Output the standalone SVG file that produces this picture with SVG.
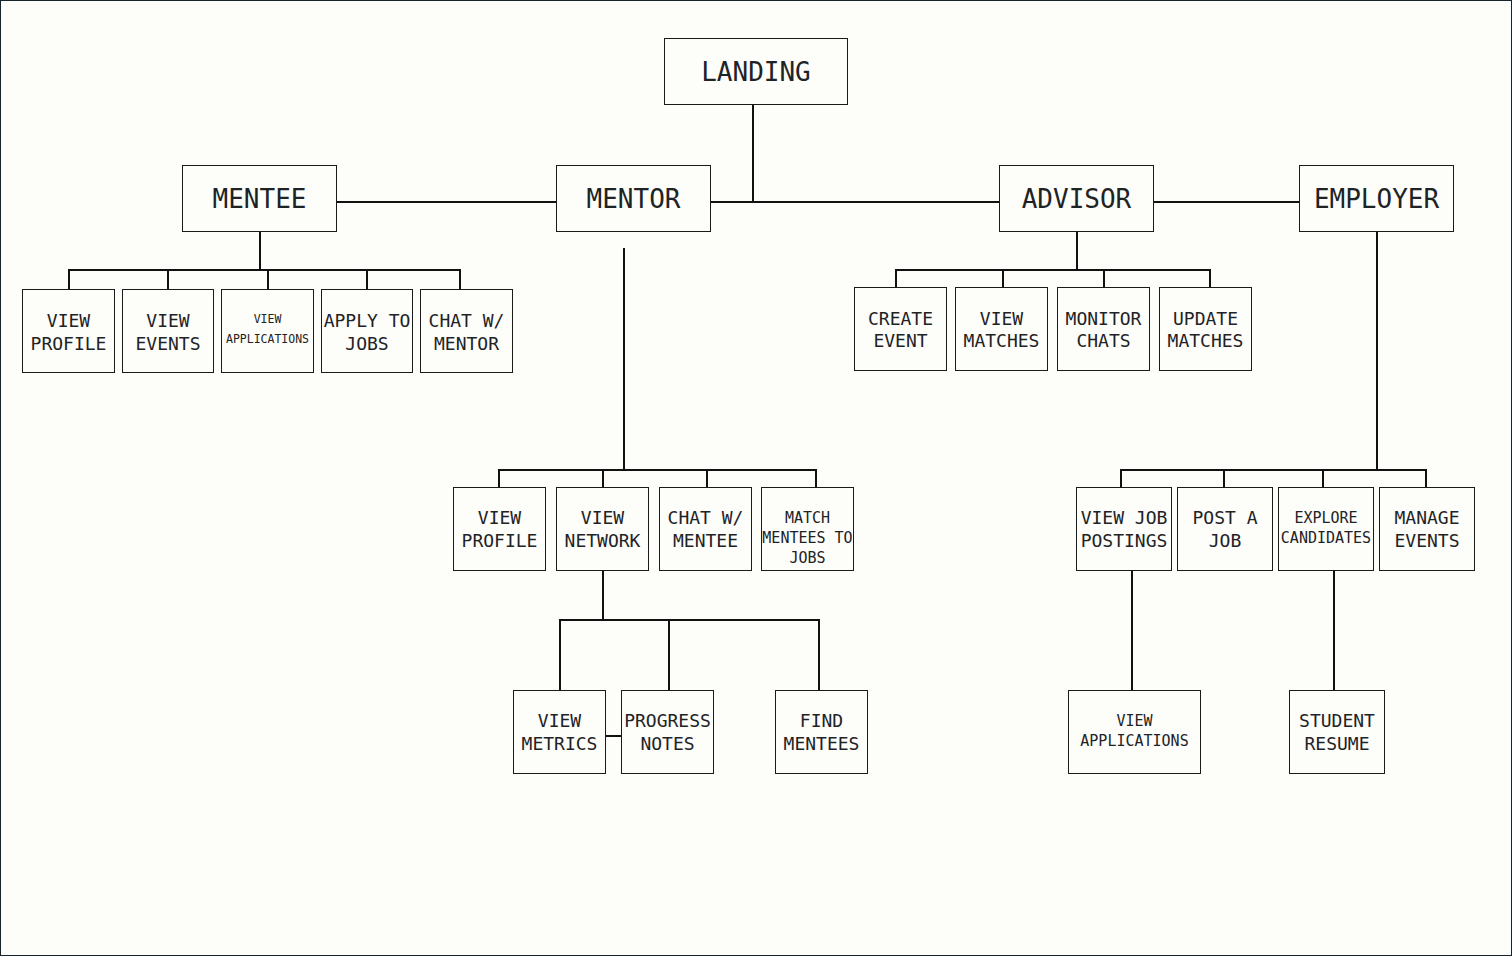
<svg xmlns="http://www.w3.org/2000/svg" width="1512" height="956" viewBox="0 0 1512 956">
<style>
.bg{fill:#fdfdf9;stroke:#17232b;stroke-width:1}
.box{fill:#fdfdf9;stroke:#1a1a1a;stroke-width:1}
.c{fill:none;stroke:#111;stroke-width:2}
text{font-family:"DejaVu Sans Mono","Liberation Mono",monospace;fill:#1e2326;text-anchor:middle}
.L{font-size:26px}
.M{font-size:18px}
.S{font-size:15px}
.T{font-size:11.5px}
</style>
<rect class="bg" x="0.5" y="0.5" width="1511" height="955"/>
<g id="connectors">
<path class="c" d="M753,104V202M336,202H556M710,202H999M1153,202H1299"/>
<path class="c" d="M260,231V270M69,289V270H460V289M168,270V289M268,270V289M367,270V289"/>
<path class="c" d="M624,248V470M499,487V470H816V487M603,470V487M707,470V487"/>
<path class="c" d="M603,570V620M560,690V620H819V690M669,620V690M605,736H621"/>
<path class="c" d="M1077,231V270M896,287V270H1210V287M1003,270V287M1104,270V287"/>
<path class="c" d="M1377,231V470M1121,487V470H1426V487M1224,470V487M1323,470V487"/>
<path class="c" d="M1132,570V690M1334,570V690"/>
</g>
<g id="landing"><rect class="box" x="664.5" y="38.5" width="183" height="66"/><text class="L" x="756" y="80.5">LANDING</text></g>
<g id="mentee"><rect class="box" x="182.5" y="165.5" width="154" height="66"/><text class="L" x="259.5" y="207.5">MENTEE</text></g>
<g id="mentor"><rect class="box" x="556.5" y="165.5" width="154" height="66"/><text class="L" x="633.5" y="207.5">MENTOR</text></g>
<g id="advisor"><rect class="box" x="999.5" y="165.5" width="154" height="66"/><text class="L" x="1076.5" y="207.5">ADVISOR</text></g>
<g id="employer"><rect class="box" x="1299.5" y="165.5" width="154" height="66"/><text class="L" x="1376.5" y="207.5">EMPLOYER</text></g>

<g id="mentee-view-profile"><rect class="box" x="22.5" y="289.5" width="92" height="83"/><text class="M" x="68.5" y="326.5">VIEW</text><text class="M" x="68.5" y="349.5">PROFILE</text></g>
<g id="mentee-view-events"><rect class="box" x="122.5" y="289.5" width="91" height="83"/><text class="M" x="168" y="326.5">VIEW</text><text class="M" x="168" y="349.5">EVENTS</text></g>
<g id="mentee-view-applications"><rect class="box" x="221.5" y="289.5" width="92" height="83"/><text class="T" x="267.5" y="323">VIEW</text><text class="T" x="267.5" y="343">APPLICATIONS</text></g>
<g id="mentee-apply"><rect class="box" x="321.5" y="289.5" width="91" height="83"/><text class="M" x="367" y="326.5">APPLY TO</text><text class="M" x="367" y="349.5">JOBS</text></g>
<g id="mentee-chat"><rect class="box" x="420.5" y="289.5" width="92" height="83"/><text class="M" x="466.5" y="326.5">CHAT W/</text><text class="M" x="466.5" y="349.5">MENTOR</text></g>

<g id="advisor-create-event"><rect class="box" x="854.5" y="287.5" width="92" height="83"/><text class="M" x="900.5" y="324.5">CREATE</text><text class="M" x="900.5" y="347">EVENT</text></g>
<g id="advisor-view-matches"><rect class="box" x="955.5" y="287.5" width="92" height="83"/><text class="M" x="1001.5" y="324.5">VIEW</text><text class="M" x="1001.5" y="347">MATCHES</text></g>
<g id="advisor-monitor-chats"><rect class="box" x="1057.5" y="287.5" width="92" height="83"/><text class="M" x="1103.5" y="324.5">MONITOR</text><text class="M" x="1103.5" y="347">CHATS</text></g>
<g id="advisor-update-matches"><rect class="box" x="1159.5" y="287.5" width="92" height="83"/><text class="M" x="1205.5" y="324.5">UPDATE</text><text class="M" x="1205.5" y="347">MATCHES</text></g>

<g id="mentor-view-profile"><rect class="box" x="453.5" y="487.5" width="92" height="83"/><text class="M" x="499.5" y="524">VIEW</text><text class="M" x="499.5" y="547">PROFILE</text></g>
<g id="mentor-view-network"><rect class="box" x="556.5" y="487.5" width="92" height="83"/><text class="M" x="602.5" y="524">VIEW</text><text class="M" x="602.5" y="547">NETWORK</text></g>
<g id="mentor-chat"><rect class="box" x="659.5" y="487.5" width="92" height="83"/><text class="M" x="705.5" y="524">CHAT W/</text><text class="M" x="705.5" y="547">MENTEE</text></g>
<g id="mentor-match"><rect class="box" x="761.5" y="487.5" width="92" height="83"/><text class="S" x="807.5" y="522.5">MATCH</text><text class="S" x="807.5" y="542.5">MENTEES TO</text><text class="S" x="807.5" y="562.5">JOBS</text></g>

<g id="view-metrics"><rect class="box" x="513.5" y="690.5" width="92" height="83"/><text class="M" x="559.5" y="727">VIEW</text><text class="M" x="559.5" y="750">METRICS</text></g>
<g id="progress-notes"><rect class="box" x="621.5" y="690.5" width="92" height="83"/><text class="M" x="667.5" y="727">PROGRESS</text><text class="M" x="667.5" y="750">NOTES</text></g>
<g id="find-mentees"><rect class="box" x="775.5" y="690.5" width="92" height="83"/><text class="M" x="821.5" y="727">FIND</text><text class="M" x="821.5" y="750">MENTEES</text></g>

<g id="employer-view-job-postings"><rect class="box" x="1076.5" y="487.5" width="95" height="83"/><text class="M" x="1124" y="524">VIEW JOB</text><text class="M" x="1124" y="547">POSTINGS</text></g>
<g id="employer-post-job"><rect class="box" x="1177.5" y="487.5" width="95" height="83"/><text class="M" x="1225" y="524">POST A</text><text class="M" x="1225" y="547">JOB</text></g>
<g id="employer-explore"><rect class="box" x="1278.5" y="487.5" width="95" height="83"/><text class="S" x="1326" y="522.5">EXPLORE</text><text class="S" x="1326" y="542.5">CANDIDATES</text></g>
<g id="employer-manage-events"><rect class="box" x="1379.5" y="487.5" width="95" height="83"/><text class="M" x="1427" y="524">MANAGE</text><text class="M" x="1427" y="547">EVENTS</text></g>

<g id="employer-view-applications"><rect class="box" x="1068.5" y="690.5" width="132" height="83"/><text class="S" x="1134.5" y="725.5">VIEW</text><text class="S" x="1134.5" y="745.5">APPLICATIONS</text></g>
<g id="student-resume"><rect class="box" x="1289.5" y="690.5" width="95" height="83"/><text class="M" x="1337" y="727">STUDENT</text><text class="M" x="1337" y="750">RESUME</text></g>
</svg>
